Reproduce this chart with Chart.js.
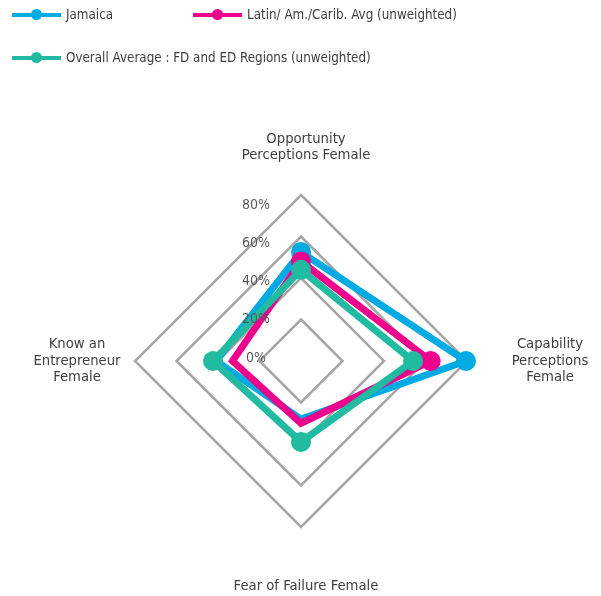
<!DOCTYPE html>
<html lang="en">
<head>
<meta charset="UTF-8">
<title>Female entrepreneurship perceptions</title>
<script src="https://cdn.jsdelivr.net/npm/chart.js"></script>
<style>
	body {
		margin: 0;
		padding: 0;
		background: #fff;
		font-family: 'Liberation Sans Narrow', 'DejaVu Sans Condensed', 'Arial Narrow', sans-serif;
	}

	.wrap {
		position: relative;
		width: 601px;
		height: 596px;
	}

	#legend {
		position: absolute;
		left: 0;
		top: 0;
		width: 601px;
		height: 80px;
		font-size: 13.3px;
		color: #404040;
	}

	.item {
		position: absolute;
		display: flex;
		align-items: center;
		white-space: nowrap;
	}

	.swatch {
		position: relative;
		width: 49px;
		height: 11px;
		margin-right: 5px;
	}

	.swatch .ln {
		position: absolute;
		left: 0;
		right: 0;
		top: 4px;
		height: 3.5px;
	}

	.swatch .dot {
		position: absolute;
		left: 19px;
		top: 0;
		width: 11px;
		height: 11px;
		border-radius: 50%;
	}
</style>
</head>
<body>
<div class="wrap">
	<canvas id="chart" width="601" height="596"></canvas>
	<div id="legend"></div>
</div>

<script>
	// axes (clockwise from top)
	const categories = [
		['Opportunity', 'Perceptions Female'],
		['Capability', 'Perceptions', 'Female'],
		['Fear of Failure Female'],
		['Know an', 'Entrepreneur', 'Female']
	];

	const seriesNames = [
		'Jamaica',
		'Latin/ Am./Carib. Avg (unweighted)',
		'Overall Average : FD and ED Regions (unweighted)'
	];

	const jamaica = [52.5, 79.5, 28, 41];
	const latinAvg = [48, 62.5, 30, 33];
	const overallAvg = [44, 54, 39, 42.4];

	const tickValues = [0, 20, 40, 60, 80];

	const colors = ['#00AAE2', '#EC008C', '#20BBA0'];
	const FONT = "'Liberation Sans Narrow', 'DejaVu Sans Condensed', 'Arial Narrow', sans-serif";

	// html legend, placed like the original
	const legendPos = [[12, 16], [193, 16], [12, 59]];
	const legend = document.getElementById('legend');
	seriesNames.forEach(function (name, i) {
		const item = document.createElement('div');
		item.className = 'item';
		item.style.left = legendPos[i][0] + 'px';
		item.style.top = (legendPos[i][1] - 9) + 'px';
		item.innerHTML = '<span class="swatch"><span class="ln" style="background:' + colors[i] + '"></span>' +
			'<span class="dot" style="background:' + colors[i] + '"></span></span><span>' + name + '</span>';
		legend.appendChild(item);
	});

	// tick labels and axis titles drawn next to the scale
	const labelPlugin = {
		id: 'labels',
		afterDraw(chart) {
			const scale = chart.scales.r;
			const ctx = chart.ctx;
			ctx.save();
			ctx.font = '14px ' + FONT;
			ctx.fillStyle = '#595959';
			ctx.textAlign = 'center';
			ctx.textBaseline = 'middle';
			tickValues.forEach(function (v) {
				const d = scale.getDistanceFromCenterForValue(v);
				ctx.fillText(v + '%', scale.xCenter - 45, scale.yCenter - 3 - d * 0.92);
			});

			ctx.font = '14.7px ' + FONT;
			ctx.fillStyle = '#404040';
			const dist = [214, 249, 225, 224];
			categories.forEach(function (lines, i) {
				const p = scale.getPointPosition(i, dist[i]);
				const h = 16.5;
				const y0 = p.y - (lines.length - 1) * h / 2;
				let dx = 0;
				if (i === 0 || i === 2) dx = 5;
				lines.forEach(function (t, k) {
					ctx.fillText(t, p.x + dx, y0 + k * h);
				});
			});
			ctx.restore();
		}
	};

	const seriesData = [jamaica, latinAvg, overallAvg];
	const pointSizes = [[9, 9, 0, 0], [9, 9, 0, 0], [9, 9, 9, 9]];

	new Chart(document.getElementById('chart'), {
		type: 'radar',
		data: {
			labels: categories,
			datasets: seriesData.map(function (vals, i) {
				return {
					label: seriesNames[i],
					data: vals,
					borderColor: colors[i],
					backgroundColor: colors[i],
					borderWidth: 7,
					fill: false,
					pointRadius: pointSizes[i],
					pointHoverRadius: pointSizes[i],
					pointBorderWidth: 2,
					pointBackgroundColor: colors[i],
					pointBorderColor: colors[i],
					order: 3 - i,
					clip: false
				};
			})
		},
		options: {
			responsive: false,
			animation: false,
			layout: {
				padding: {left: 135, right: 134, top: 195, bottom: 69}
			},
			plugins: {
				legend: {display: false},
				tooltip: {enabled: false}
			},
			scales: {
				r: {
					min: 0,
					max: 80,
					ticks: {stepSize: 20, display: false},
					pointLabels: {display: false},
					angleLines: {display: false},
					grid: {
						circular: false,
						color: '#A6A6A6',
						lineWidth: 2.5
					}
				}
			}
		},
		plugins: [labelPlugin]
	});
</script>
</body>
</html>
